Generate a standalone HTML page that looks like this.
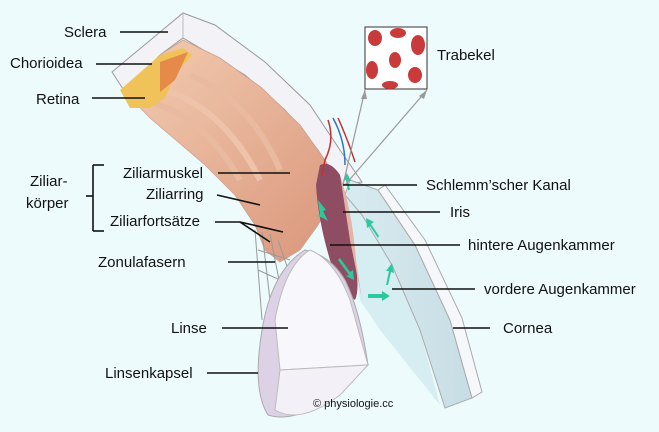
<!DOCTYPE html>
<html><head><meta charset="utf-8"><style>
html,body{margin:0;padding:0;background:#eefbfc;}
svg{display:block;}
text{font-family:"Liberation Sans",sans-serif;font-size:15px;fill:#111;}
</style></head><body>
<svg width="659" height="432" viewBox="0 0 659 432">
<rect width="659" height="432" fill="#eefbfc"/>
<defs>
<linearGradient id="tis" x1="0" y1="0" x2="1" y2="1">
<stop offset="0" stop-color="#f3cdb2"/><stop offset="1" stop-color="#d9957a"/></linearGradient>
<linearGradient id="cor" x1="0" y1="0" x2="1" y2="0">
<stop offset="0" stop-color="#d8ebf0"/><stop offset="1" stop-color="#c7dde4"/></linearGradient>
</defs>
<!-- sclera white block -->
<path d="M112,72 L183,13 L215,25 L265,62 L310,105 L340,150 L362,182 L340,185 L318,150 L285,110 L245,75 L200,48 L183,38 L160,55 L125,92 Z" fill="#f3f3f7" stroke="#999" stroke-width="1"/>
<line x1="183" y1="13" x2="183" y2="38" stroke="#bbb"/>
<!-- tissue band -->
<path d="M125,92 L160,55 L183,40 L220,58 L262,88 L300,125 L325,160 L340,185 L318,225 L300,250 L280,262 L265,250 L255,225 L235,195 L205,165 L170,135 L150,118 Z" fill="url(#tis)" stroke="#c9a090" stroke-width="0.8"/>
<path d="M140,100 Q200,110 240,180" stroke="#e9b9a0" stroke-width="6" fill="none"/>
<path d="M165,90 Q225,110 260,180" stroke="#eec3aa" stroke-width="6" fill="none"/>
<path d="M190,75 Q250,100 280,170" stroke="#e9b9a0" stroke-width="6" fill="none"/>
<!-- choroid / retina yellow -->
<path d="M120,90 L160,55 L183,48 L192,55 L175,75 L165,98 L150,108 L130,108 Z" fill="#f0c35a"/>
<path d="M160,62 L188,52 L175,80 L160,92 Z" fill="#e68a4a"/>
<!-- anterior chamber -->
<path d="M345,190 L365,215 L395,265 L420,330 L440,405 L380,330 L360,300 L350,250 Z" fill="#d6eef2"/>
<!-- cornea -->
<path d="M350,180 L378,190 L415,245 L450,320 L472,398 L445,408 L420,330 L392,265 L362,215 L345,195 Z" fill="url(#cor)" stroke="#aaa"/>
<path d="M378,190 L415,245 L450,320 L472,398 L482,392 L462,318 L425,240 L385,185 Z" fill="#f5f7fa" stroke="#aaa"/>
<!-- iris -->
<path d="M320,165 Q330,160 340,175 Q350,210 355,260 Q360,290 355,300 Q340,290 330,260 Q318,220 316,185 Z" fill="#8e4d62"/>
<path d="M340,175 Q352,210 356,260 L362,300 L350,240 Z" fill="#e2b4a6"/>
<!-- zonular fibers -->
<g stroke="#999" stroke-width="1">
<line x1="255" y1="230" x2="262" y2="320"/><line x1="262" y1="232" x2="270" y2="300"/>
<line x1="270" y1="234" x2="280" y2="285"/><line x1="278" y1="240" x2="290" y2="275"/>
<line x1="258" y1="250" x2="290" y2="260"/><line x1="258" y1="270" x2="280" y2="280"/>
</g>
<!-- lens -->
<path d="M262,330 Q272,270 305,250 Q330,255 345,280 Q360,310 368,365 L345,385 Q300,425 268,415 Q252,390 262,330 Z" fill="#ddd1e6" stroke="#aaa"/>
<path d="M275,320 Q285,265 310,250 Q335,260 350,300 L368,365 L280,370 Z" fill="#f8f7fb" stroke="#bbb"/>
<path d="M280,370 L368,365 L340,395 Q300,425 275,410 Z" fill="#f3f1f7" stroke="#bbb"/>
<!-- green arrows -->
<g fill="#2dc99e">
<path d="M318,200 l8,10 l-3,1 l5,10 l-5,-3 l-6,-2 l3,-1 Z"/>
<path d="M340,258 l10,14 l3,-2 l1,10 l-8,-4 l3,-1 l-11,-15 Z"/>
<path d="M368,294 l14,0 l0,-3 l8,5 l-8,5 l0,-3 l-14,0 Z"/>
<path d="M386,285 l3,-14 l-3,0 l6,-8 l2,10 l-3,-1 l-3,13 Z"/>
<path d="M378,238 l-8,-12 l-3,2 l-1,-10 l8,4 l-3,2 l8,12 Z"/>
<path d="M348,190 l-2,-10 l-3,1 l4,-8 l4,8 l-3,0 l2,9 Z"/>
</g>
<!-- vessels -->
<g fill="none" stroke-width="1.5">
<path d="M328,120 Q335,140 325,160 L322,175" stroke="#c43030"/>
<path d="M333,118 Q345,140 345,165" stroke="#3a70c0"/>
<path d="M338,118 Q348,140 355,162" stroke="#c43030"/>
</g>
<!-- trabekel box -->
<rect x="365" y="27" width="62" height="62" fill="#fff" stroke="#333"/>
<g fill="#c93a3a">
<ellipse cx="375" cy="38" rx="7" ry="8"/><ellipse cx="398" cy="33" rx="8" ry="5"/><ellipse cx="418" cy="45" rx="7" ry="10"/>
<ellipse cx="372" cy="70" rx="6" ry="9"/><ellipse cx="395" cy="60" rx="6" ry="8"/><ellipse cx="415" cy="75" rx="7" ry="8"/>
<ellipse cx="390" cy="85" rx="8" ry="4"/></g>
<g stroke="#999" stroke-width="1.2">
<line x1="343" y1="185" x2="365" y2="90"/><line x1="345" y1="185" x2="427" y2="90"/></g>
<g fill="#999"><path d="M365,90 l-4,9 l6,0 Z"/><path d="M427,90 l-8,6 l5,3 Z"/></g>
<!-- leader lines -->
<g stroke="#111" stroke-width="1.6">
<line x1="120" y1="32" x2="168" y2="32"/>
<line x1="96" y1="64" x2="152" y2="64"/>
<line x1="92" y1="98" x2="145" y2="98"/>
<line x1="218" y1="173" x2="290" y2="173"/>
<line x1="217" y1="195" x2="260" y2="205"/>
<line x1="215" y1="222" x2="240" y2="222"/>
<line x1="240" y1="222" x2="283" y2="232"/>
<line x1="240" y1="222" x2="270" y2="242"/>
<line x1="228" y1="262" x2="275" y2="262"/>
<line x1="222" y1="328" x2="288" y2="328"/>
<line x1="207" y1="373" x2="258" y2="373"/>
<line x1="343" y1="185" x2="417" y2="185"/>
<line x1="343" y1="212" x2="440" y2="212"/>
<line x1="330" y1="245" x2="460" y2="245"/>
<line x1="392" y1="289" x2="475" y2="289"/>
<line x1="453" y1="328" x2="490" y2="328"/>
<line x1="93" y1="165" x2="104" y2="165"/><line x1="93" y1="165" x2="93" y2="231"/><line x1="93" y1="231" x2="104" y2="231"/>
<line x1="86" y1="196" x2="93" y2="196"/>
</g>
<text x="64" y="37">Sclera</text>
<text x="10" y="68">Chorioidea</text>
<text x="36" y="104">Retina</text>
<text x="30" y="186">Ziliar-</text>
<text x="26" y="208">körper</text>
<text x="123" y="178">Ziliarmuskel</text>
<text x="146" y="199">Ziliarring</text>
<text x="110" y="226">Ziliarfortsätze</text>
<text x="98" y="267">Zonulafasern</text>
<text x="171" y="333">Linse</text>
<text x="105" y="378">Linsenkapsel</text>
<text x="437" y="60">Trabekel</text>
<text x="426" y="190">Schlemm’scher Kanal</text>
<text x="450" y="217">Iris</text>
<text x="468" y="250">hintere Augenkammer</text>
<text x="484" y="294">vordere Augenkammer</text>
<text x="503" y="333">Cornea</text>
<text x="313" y="407" style="font-size:11px">© physiologie.cc</text>
</svg>
</body></html>
